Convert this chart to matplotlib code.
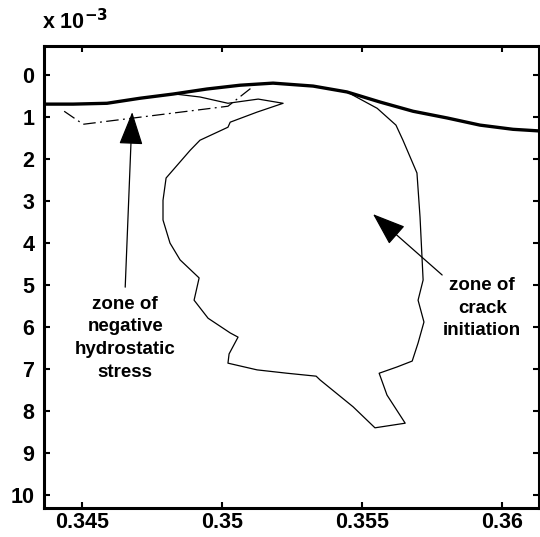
import numpy as np
import matplotlib
matplotlib.use('Agg')
import matplotlib.pyplot as plt
from matplotlib.patches import ArrowStyle

plt.rcParams['font.family'] = ['Liberation Sans', 'DejaVu Sans']
plt.rcParams['font.weight'] = 'bold'

# surface line (x in m, y in units of 1e-3)
surf_x = [0.34364, 0.34468, 0.34589, 0.34707, 0.34825, 0.34946, 0.35064, 0.35182,
          0.35325, 0.35446, 0.35564, 0.35682, 0.35804, 0.35921, 0.36039, 0.36136]
surf_y = [0.69, 0.69, 0.67, 0.55, 0.45, 0.33, 0.24, 0.19,
          0.26, 0.40, 0.64, 0.86, 1.02, 1.19, 1.29, 1.33]

# zone of crack initiation (closed contour)
crack_x = [0.34832, 0.34921, 0.35021, 0.35129, 0.35218, 0.35125, 0.35029, 0.35021,
           0.34921, 0.34886, 0.34800, 0.34789, 0.34789, 0.34814, 0.34850, 0.34918,
           0.34900, 0.34950, 0.35029, 0.35057, 0.35025, 0.35021, 0.35125, 0.35232,
           0.35336, 0.35350, 0.35468, 0.35546, 0.35654, 0.35589, 0.35561, 0.35625,
           0.35679, 0.35700, 0.35721, 0.35700, 0.35718, 0.35707, 0.35696, 0.35646,
           0.35621, 0.35554, 0.35446, 0.35325, 0.35182, 0.35064, 0.34946, 0.34832]
crack_y = [0.45, 0.52, 0.67, 0.57, 0.67, 0.88, 1.12, 1.24,
           1.55, 1.79, 2.45, 2.98, 3.45, 4.00, 4.40, 4.83,
           5.36, 5.79, 6.14, 6.24, 6.64, 6.86, 7.02, 7.10,
           7.17, 7.26, 7.90, 8.40, 8.29, 7.62, 7.10, 6.95,
           6.81, 6.38, 5.88, 5.36, 4.88, 3.38, 2.33, 1.55,
           1.19, 0.79, 0.40, 0.26, 0.19, 0.24, 0.33, 0.45]

# zone of negative hydrostatic stress (dash-dot)
neg_x = [0.34436, 0.34504, 0.35021, 0.35107]
neg_y = [0.86, 1.17, 0.74, 0.29]

fig = plt.figure(figsize=(5.4, 5.37), dpi=100)
ax = fig.add_axes([0.0815, 0.054, 0.9167, 0.860])

ax.plot(crack_x, crack_y, color='black', lw=0.9)
ax.plot(neg_x, neg_y, color='black', lw=0.9, linestyle=(0, (10, 3.5, 1.5, 3.5)))
ax.plot(surf_x, surf_y, color='black', lw=2.4, solid_joinstyle='round')

ax.set_xlim(0.34364, 0.36132)
ax.set_ylim(10.31, -0.69)

ax.set_xticks([0.345, 0.35, 0.355, 0.36])
ax.set_xticklabels(['0.345', '0.35', '0.355', '0.36'])
ax.set_yticks(range(0, 11))
ax.tick_params(direction='in', length=4, width=1.5, top=True, right=True,
               labelsize=15.5)
ax.tick_params(axis='y', pad=7)
ax.tick_params(axis='x', pad=3)
for lab in ax.get_xticklabels() + ax.get_yticklabels():
    lab.set_fontweight('bold')
for s in ax.spines.values():
    s.set_linewidth(2.2)

fig.text(0.078, 0.937, r'x 10$^{\mathbf{-3}}$', fontsize=15.5, fontweight='bold',
         ha='left', va='bottom')

astyle = ArrowStyle('-|>', head_length=1.05, head_width=0.38)
ax.annotate('', xy=(0.34679, 0.88), xytext=(0.34654, 5.05),
            arrowprops=dict(arrowstyle=astyle, mutation_scale=20, color='black',
                            lw=0.9, shrinkA=0, shrinkB=0))
ax.annotate('', xy=(0.35539, 3.31), xytext=(0.35786, 4.76),
            arrowprops=dict(arrowstyle=astyle, mutation_scale=20, color='black',
                            lw=0.9, shrinkA=0, shrinkB=0))

ax.text(0.34654, 5.25, 'zone of\nnegative\nhydrostatic\nstress', ha='center', va='top',
        fontsize=13.5, fontweight='bold', linespacing=1.45)
ax.text(0.35929, 4.8, 'zone of\ncrack\ninitiation', ha='center', va='top',
        fontsize=13.5, fontweight='bold', linespacing=1.45)

fig.savefig('out.png', dpi=100)
